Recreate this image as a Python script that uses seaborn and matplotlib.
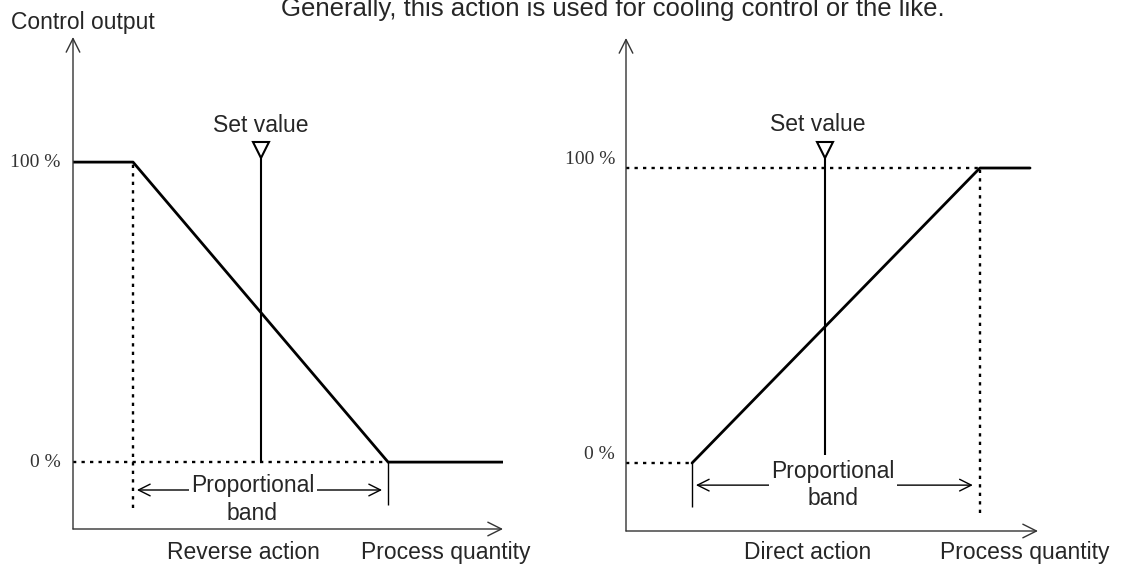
import matplotlib
matplotlib.use("Agg")
import matplotlib.pyplot as plt
import seaborn as sns

# chart content
title = "Generally, this action is used for cooling control or the like."
y_title = "Control output"
x_title = "Process quantity"

reverse_x = [0, 20, 105, 144]
reverse_y = [100, 100, 0, 0]
reverse_band = [20, 105]
reverse_set_value = 62.5

direct_x = [22.4, 120, 137]
direct_y = [0, 100, 100]
direct_band = [22.4, 120]
direct_set_value = 67.5

output_ticks = [0, 100]
output_tick_labels = ["0 %", "100 %"]

sns.set_style("white")
plt.rcParams["font.family"] = ["Liberation Sans", "DejaVu Sans"]

W, H = 1123, 565
fig = plt.figure(figsize=(W / 100, H / 100), dpi=100)


def px_axes(left, top, right, bottom):
    return fig.add_axes([left / W, 1 - bottom / H, (right - left) / W, (bottom - top) / H])


def setup_axes(ax, tick_pad, tick_va):
    sns.despine(ax=ax, left=True, bottom=True)
    ax.set_xticks([])
    ax.set_yticks(output_ticks, output_tick_labels)
    ax.tick_params(axis="y", length=0, pad=tick_pad)
    for lab in ax.get_yticklabels():
        lab.set_family("Liberation Serif")
        lab.set_fontsize(14)
        lab.set_color("#333333")
        lab.set_va(tick_va)
    arrow = dict(arrowstyle="->,head_length=0.7,head_width=0.35", lw=1.0, color="#333333",
                 shrinkA=0, shrinkB=0, mutation_scale=14)
    ax.annotate("", xy=(0, 1), xytext=(0, 0), xycoords="axes fraction", arrowprops=arrow)
    ax.annotate("", xy=(1, 0), xytext=(0, 0), xycoords="axes fraction", arrowprops=arrow)


dotted = dict(color="black", lw=1.7, ls=(0, (1.4, 2.2)))
band_arrow = dict(arrowstyle="<->,head_length=0.6,head_width=0.3", lw=1.0, color="black",
                  shrinkA=0, shrinkB=0, mutation_scale=14)
white_box = dict(boxstyle="square,pad=0.1", fc="white", ec="none")

# ---- Reverse action ----
ax1 = px_axes(73, 37, 503, 529)
ax1.set_xlim(0, 143.3)
ax1.set_ylim(-22.3, 141.7)
setup_axes(ax1, 9, "center")

sns.lineplot(x=reverse_x, y=reverse_y, ax=ax1, color="black", linewidth=2.0,
             sort=False, estimator=None)
ax1.hlines(0, 0, reverse_band[1], **dotted)
ax1.vlines(reverse_band[0], -15.3, 100, **dotted)
ax1.vlines(reverse_band[1], -14.3, 0, color="black", lw=1.0)

ax1.vlines(reverse_set_value, 0, 101.7, color="black", lw=1.5)
ax1.plot([reverse_set_value], [104], marker="v", ms=12, mfc="white", mec="black", mew=1.5)
ax1.text(reverse_set_value, 112.3, "Set value", ha="center", va="center", fontsize=16.5)

ax1.annotate("", xy=(reverse_band[0] + 1.3, -9.3), xytext=(reverse_band[1] - 2, -9.3),
             arrowprops=band_arrow)
ax1.text(60, -7.7, "Proportional", ha="center", va="center", fontsize=16.5, bbox=white_box)
ax1.text(59.7, -17, "band", ha="center", va="center", fontsize=16.5)

ax1.text(56.7, -30, "Reverse action", ha="center", va="center", fontsize=16.5, clip_on=False)
ax1.text(124.3, -30, x_title, ha="center", va="center", fontsize=16.5, clip_on=False)

# ---- Direct action ----
ax2 = px_axes(626, 38, 1038, 531)
ax2.set_xlim(0, 139.7)
ax2.set_ylim(-23.05, 144.07)
setup_axes(ax2, 8, "bottom")

sns.lineplot(x=direct_x, y=direct_y, ax=ax2, color="black", linewidth=2.0,
             sort=False, estimator=None)
ax2.hlines(100, 0, direct_band[1], **dotted)
ax2.hlines(0, 0, direct_band[0], **dotted)
ax2.vlines(direct_band[1], -17, 100, **dotted)
ax2.vlines(direct_band[0], -14.9, 0, color="black", lw=1.0)

ax2.vlines(direct_set_value, 2.7, 103.7, color="black", lw=1.5)
ax2.plot([direct_set_value], [106], marker="v", ms=12, mfc="white", mec="black", mew=1.5)
ax2.text(65.1, 114.6, "Set value", ha="center", va="center", fontsize=16.5)

ax2.annotate("", xy=(direct_band[0] + 1.3, -7.5), xytext=(direct_band[1] - 2.4, -7.5),
             arrowprops=band_arrow)
ax2.text(70.2, -3, "Proportional", ha="center", va="center", fontsize=16.5, bbox=white_box)
ax2.text(70.2, -11.9, "band", ha="center", va="center", fontsize=16.5)

ax2.text(61.7, -30.2, "Direct action", ha="center", va="center", fontsize=16.5, clip_on=False)
ax2.text(135.3, -30.2, x_title, ha="center", va="center", fontsize=16.5, clip_on=False)

# ---- figure texts ----
fig.text(83 / W, 1 - 22 / H, y_title, ha="center", va="center", fontsize=16.5)
fig.text(613 / W, 1 - 16 / H, title, ha="center", va="baseline", fontsize=18.5)

fig.savefig("out.png", dpi=100)
